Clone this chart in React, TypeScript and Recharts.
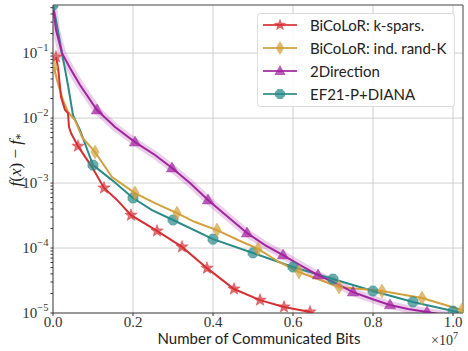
import React from 'react';
import { ComposedChart, Line, Scatter, XAxis, YAxis, ReferenceLine, Legend } from 'recharts';

// ---- data (x in units of 1e7 bits) ----
const redX = [0.0075, 0.0125, 0.015, 0.02, 0.0225, 0.03, 0.0375, 0.04, 0.045, 0.0625, 0.0975, 0.1275, 0.16, 0.195, 0.26, 0.3225, 0.385, 0.4525, 0.5175, 0.5775, 0.6425, 0.67];
const redY = [0.087, 0.061, 0.0427, 0.021, 0.0189, 0.0133, 0.0119, 0.00727, 0.00588, 0.0037, 0.00176, 0.00084, 0.00055, 0.00032, 0.000183, 0.000104, 4.9e-5, 2.34e-5, 1.58e-5, 1.24e-5, 1.04e-5, 8.5e-6];
const redMarkX = [0.0075, 0.0625, 0.1275, 0.195, 0.26, 0.3225, 0.385, 0.4525, 0.5175, 0.5775, 0.6425];
const redMarkY = [0.087, 0.0037, 0.00084, 0.00032, 0.000183, 0.000104, 4.9e-5, 2.34e-5, 1.58e-5, 1.24e-5, 1.04e-5];

const orangeX = [0.0025, 0.01, 0.025, 0.0375, 0.055, 0.0725, 0.105, 0.1475, 0.205, 0.255, 0.31, 0.355, 0.41, 0.4625, 0.5125, 0.565, 0.615, 0.715, 0.8225, 0.9225, 1.0225];
const orangeY = [0.061, 0.0385, 0.0189, 0.0124, 0.0093, 0.0051, 0.003, 0.00124, 0.000702, 0.000492, 0.000345, 0.000251, 0.000189, 0.000133, 9.7e-5, 6.1e-5, 4.28e-5, 2.51e-5, 2.18e-5, 1.7e-5, 1.11e-5];
const orangeMarkX = [0.0025, 0.105, 0.205, 0.31, 0.41, 0.5125, 0.615, 0.715, 0.8225, 0.9225, 1.0225];
const orangeMarkY = [0.061, 0.003, 0.000702, 0.000345, 0.000189, 9.7e-5, 4.28e-5, 2.51e-5, 2.18e-5, 1.7e-5, 1.11e-5];

const purpleX = [0, 0.0075, 0.0225, 0.0425, 0.0675, 0.11, 0.155, 0.205, 0.255, 0.2975, 0.3425, 0.3875, 0.4375, 0.485, 0.53, 0.575, 0.6175, 0.6625, 0.705, 0.75, 0.7975, 0.8425, 0.8875, 0.935, 0.9925];
const purpleY = [0.55, 0.226, 0.1, 0.0588, 0.0322, 0.0133, 0.00727, 0.00427, 0.0027, 0.0017, 0.001, 0.000547, 0.0003, 0.00017, 0.000111, 7.8e-5, 5.47e-5, 3.84e-5, 2.9e-5, 2.1e-5, 1.64e-5, 1.33e-5, 1.15e-5, 1.04e-5, 9e-6];
const purpleMarkX = [0.11, 0.205, 0.2975, 0.3875, 0.485, 0.575, 0.6625, 0.75, 0.8425, 0.935];
const purpleMarkY = [0.0133, 0.00427, 0.0017, 0.000547, 0.00017, 7.8e-5, 3.84e-5, 2.1e-5, 1.33e-5, 1.04e-5];

const tealX = [0, 0.0075, 0.0225, 0.0375, 0.05, 0.0675, 0.1, 0.1475, 0.2, 0.2475, 0.3, 0.4, 0.5, 0.6, 0.7, 0.8, 0.9, 1.0, 1.025];
const tealY = [0.55, 0.32, 0.1, 0.032, 0.0111, 0.0065, 0.00189, 0.00111, 0.000588, 0.000384, 0.00027, 0.000137, 8.4e-5, 5.1e-5, 3.33e-5, 2.18e-5, 1.48e-5, 1.07e-5, 1.0e-5];
const tealMarkX = [0, 0.1, 0.2, 0.3, 0.4, 0.5, 0.6, 0.7, 0.8, 0.9, 1.0];
const tealMarkY = [0.55, 0.00189, 0.000588, 0.00027, 0.000137, 8.4e-5, 5.1e-5, 3.33e-5, 2.18e-5, 1.48e-5, 1.07e-5];

const seriesNames = ['BiCoLoR: k-spars.', 'BiCoLoR: ind. rand-K', '2Direction', 'EF21-P+DIANA'];
const xTicks = [0, 0.2, 0.4, 0.6, 0.8, 1.0];
const yMajor = [1e-5, 1e-4, 1e-3, 1e-2, 1e-1];
const yMinor = [2e-5, 3e-5, 4e-5, 5e-5, 6e-5, 7e-5, 8e-5, 9e-5, 2e-4, 3e-4, 4e-4, 5e-4, 6e-4, 7e-4, 8e-4, 9e-4, 2e-3, 3e-3, 4e-3, 5e-3, 6e-3, 7e-3, 8e-3, 9e-3, 2e-2, 3e-2, 4e-2, 5e-2, 6e-2, 7e-2, 8e-2, 9e-2, 2e-1, 3e-1, 4e-1, 5e-1];

const X_MAX = 1.025;
const Y_MIN = 1e-5;
const Y_MAX = 0.55;

const pts = (xs: number[], ys: number[]) => xs.map((x, i) => ({ x, y: ys[i] }));

const RED = '#d52f34';
const ORANGE = '#d3a03b';
const PURPLE = '#a2249f';
const TEAL = '#2b8a8a';

const SERIF = '"Liberation Serif", "DejaVu Serif", serif';
const SANS = 'Lato, "DejaVu Sans", sans-serif';

// ---- marker shapes ----
const starPath = (cx: number, cy: number, R: number) => {
  const r = R * 0.42;
  let d = '';
  for (let i = 0; i < 10; i++) {
    const a = -Math.PI / 2 + (i * Math.PI) / 5;
    const rr = i % 2 === 0 ? R : r;
    d += (i === 0 ? 'M' : 'L') + (cx + rr * Math.cos(a)).toFixed(2) + ',' + (cy + rr * Math.sin(a)).toFixed(2);
  }
  return d + 'Z';
};
const diamondPath = (cx: number, cy: number, R: number) =>
  `M${cx},${cy - R}L${cx + R * 0.6},${cy}L${cx},${cy + R}L${cx - R * 0.6},${cy}Z`;
const triPath = (cx: number, cy: number, R: number) =>
  `M${cx},${cy - R}L${cx + R * 0.95},${cy + R * 0.65}L${cx - R * 0.95},${cy + R * 0.65}Z`;
const octPath = (cx: number, cy: number, R: number) => {
  let d = '';
  for (let i = 0; i < 8; i++) {
    const a = Math.PI / 8 + (i * Math.PI) / 4;
    d += (i === 0 ? 'M' : 'L') + (cx + R * Math.cos(a)).toFixed(2) + ',' + (cy + R * Math.sin(a)).toFixed(2);
  }
  return d + 'Z';
};

const mk = (fn: (cx: number, cy: number, R: number) => string, color: string, R: number) => (p: any) => {
  if (p.cx == null || p.cy == null) return <g />;
  return <path d={fn(p.cx, p.cy, R)} fill={color} fillOpacity={0.7} stroke={color} strokeOpacity={0.5} strokeWidth={0.8} />;
};

const YTick = (props: any) => {
  const { x, y, payload } = props;
  const v = payload.value;
  const lg = Math.log10(v);
  const e = Math.round(lg);
  if (Math.abs(lg - e) > 1e-6) return <g />;
  return (
    <text x={x} y={y} dy={5} textAnchor="end" fontFamily={SERIF} fontSize={15} fill="#333">
      <tspan>10</tspan>
      <tspan dy={-7} fontSize={10.5}>{'\u2212' + -e}</tspan>
    </text>
  );
};

const XTick = (props: any) => {
  const { x, y, payload } = props;
  return (
    <text x={x} y={y} dy={9} textAnchor="middle" fontFamily={SERIF} fontSize={15} fill="#333">
      {payload.value.toFixed(1)}
    </text>
  );
};

const legendItems = [
  { name: seriesNames[0], color: RED, fn: starPath, R: 6.5 },
  { name: seriesNames[1], color: ORANGE, fn: diamondPath, R: 7 },
  { name: seriesNames[2], color: PURPLE, fn: triPath, R: 6 },
  { name: seriesNames[3], color: TEAL, fn: octPath, R: 5.5 },
];

const LegendBox = () => (
  <div
    style={{
      width: 198,
      height: 94,
      boxSizing: 'border-box',
      border: '1px solid #dcdcdc',
      borderRadius: 3,
      background: 'rgba(255,255,255,0.85)',
      paddingTop: 0,
    }}
  >
    {legendItems.map((it) => (
      <div key={it.name} style={{ display: 'flex', alignItems: 'center', height: 22.8 }}>
        <svg width={50} height={20} style={{ display: 'block' }}>
          <line x1={5} y1={10} x2={39} y2={10} stroke={it.color} strokeWidth={2} strokeOpacity={0.85} />
          <path d={it.fn(22, 10, it.R)} fill={it.color} fillOpacity={0.75} />
        </svg>
        <span style={{ fontFamily: SANS, fontSize: 15, color: '#222', whiteSpace: 'nowrap', marginLeft: 2 }}>{it.name}</span>
      </div>
    ))}
  </div>
);

export default function App() {
  return (
    <div style={{ position: 'absolute', left: 0, top: 0, width: 468, height: 351, background: '#fff' }}>
      <ComposedChart width={468} height={351} margin={{ top: 5, right: 5, bottom: 0, left: 0 }}>
        <XAxis
          type="number"
          dataKey="x"
          domain={[0, X_MAX]}
          ticks={xTicks}
          interval={0}
          allowDataOverflow
          tick={XTick}
          tickSize={3}
          tickMargin={2}
          height={38}
          stroke="#333"
          tickLine={{ stroke: '#333' }}
          label={{
            content: () => (
              <g>
                <text x={259} y={344} textAnchor="middle" fontFamily={SANS} fontSize={15} fill="#222">
                  Number of Communicated Bits
                </text>
                <text x={431} y={345} fontFamily={SERIF} fontSize={14} fill="#333">
                  <tspan>{'\u00d710'}</tspan>
                  <tspan dy={-6} fontSize={10}>7</tspan>
                </text>
              </g>
            ),
          }}
        />
        <YAxis
          type="number"
          dataKey="y"
          scale="log"
          domain={[Y_MIN, Y_MAX]}
          allowDataOverflow
          ticks={[...yMajor, ...yMinor]}
          interval={0}
          tick={YTick}
          tickSize={2.5}
          tickMargin={2}
          width={53}
          stroke="#333"
          label={{
            content: () => (
              <text x={0} y={0} transform="translate(21,160) rotate(-90)" textAnchor="middle" fontFamily={SERIF} fontSize={17} fill="#222">
                <tspan fontStyle="italic">f</tspan>
                <tspan>(</tspan>
                <tspan fontStyle="italic">x</tspan>
                <tspan>{') \u2212 '}</tspan>
                <tspan fontStyle="italic">f</tspan>
                <tspan dy={3} fontSize={13}>*</tspan>
              </text>
            ),
          }}
        />
        {xTicks.slice(1).map((t) => (
          <ReferenceLine key={'gx' + t} x={t} stroke="#cfcfcf" strokeWidth={1} />
        ))}
        {yMajor.slice(1).map((t) => (
          <ReferenceLine key={'gy' + t} y={t} stroke="#cfcfcf" strokeWidth={1} />
        ))}
        <ReferenceLine x={X_MAX} stroke="#444" strokeWidth={1} />
        <ReferenceLine y={Y_MAX} stroke="#444" strokeWidth={1} />

        <Line data={pts(purpleX, purpleY)} dataKey="y" stroke={PURPLE} strokeOpacity={0.22} strokeWidth={8} dot={false} isAnimationActive={false} legendType="none" />
        <Line data={pts(tealX, tealY)} dataKey="y" stroke={TEAL} strokeWidth={2} dot={false} isAnimationActive={false} />
        <Line data={pts(orangeX, orangeY)} dataKey="y" stroke={ORANGE} strokeWidth={2} dot={false} isAnimationActive={false} />
        <Line data={pts(purpleX, purpleY)} dataKey="y" stroke={PURPLE} strokeWidth={2} dot={false} isAnimationActive={false} />
        <Line data={pts(redX, redY)} dataKey="y" stroke={RED} strokeWidth={2} dot={false} isAnimationActive={false} />

        <Scatter data={pts(tealMarkX, tealMarkY)} dataKey="y" shape={mk(octPath, TEAL, 5.5)} isAnimationActive={false} />
        <Scatter data={pts(orangeMarkX, orangeMarkY)} dataKey="y" shape={mk(diamondPath, ORANGE, 7)} isAnimationActive={false} />
        <Scatter data={pts(purpleMarkX, purpleMarkY)} dataKey="y" shape={mk(triPath, PURPLE, 6)} isAnimationActive={false} />
        <Scatter data={pts(redMarkX, redMarkY)} dataKey="y" shape={mk(starPath, RED, 6.5)} isAnimationActive={false} />

        <Legend
          layout="horizontal"
          verticalAlign="middle"
          align="center"
          content={LegendBox}
          wrapperStyle={{ position: 'absolute', left: 257, top: 13, width: 198, height: 94 }}
        />
      </ComposedChart>
    </div>
  );
}
